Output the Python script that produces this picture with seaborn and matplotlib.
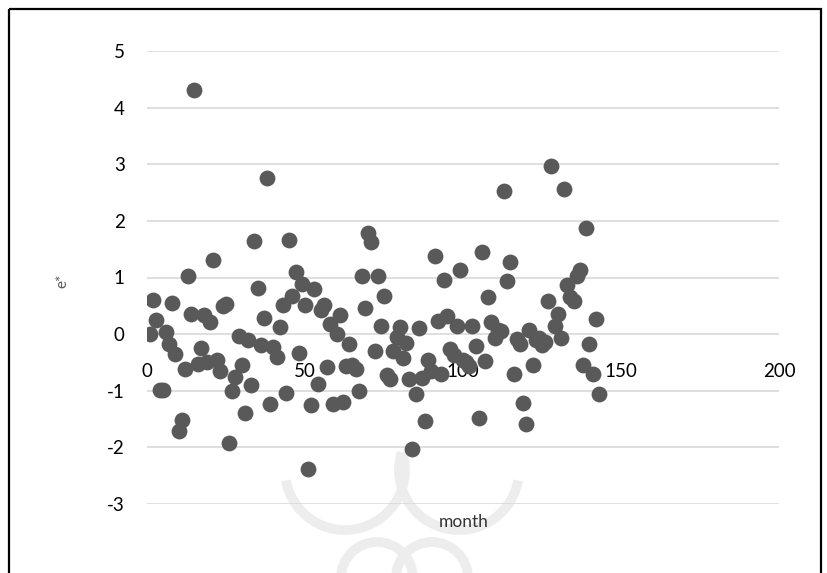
import numpy as np
import pandas as pd
import matplotlib
matplotlib.use("Agg")
import matplotlib.pyplot as plt
from matplotlib.patches import Arc, Circle, Rectangle
import seaborn as sns

# ------------------------------------------------------------
# data: standardized residual e* per month
# ------------------------------------------------------------
months = list(range(1, 144))
e_star = [
    0.00, 0.60, 0.25, -0.98, -0.98, 0.03, -0.17, 0.55, -0.35, -1.71,
    -1.52, -0.62, 1.03, 0.35, 4.32, -0.52, -0.25, 0.33, -0.50, 0.22,
    1.31, -0.45, -0.65, 0.50, 0.53, -1.93, -1.00, -0.75, -0.04, -0.55,
    -1.40, -0.10, -0.89, 1.64, 0.82, -0.19, 0.28, 2.76, -1.24, -0.23,
    -0.41, 0.13, 0.52, -1.04, 1.67, 0.68, 1.10, -0.34, 0.89, 0.51,
    -2.38, -1.26, 0.79, -0.88, 0.42, 0.52, -0.58, 0.17, -1.23, 0.00,
    0.33, -1.20, -0.56, -0.17, -0.55, -0.61, -1.00, 1.02, 0.46, 1.78,
    1.63, -0.29, 1.03, 0.15, 0.68, -0.73, -0.80, -0.30, -0.05, 0.13,
    -0.42, -0.16, -0.80, -2.03, -1.05, 0.10, -0.77, -1.53, -0.45, -0.66,
    1.38, 0.24, -0.70, 0.95, 0.32, -0.26, -0.37, 0.15, 1.14, -0.45,
    -0.50, -0.56, 0.14, -0.21, -1.49, 1.45, -0.48, 0.66, 0.21, -0.07,
    0.08, 0.05, 2.53, 0.94, 1.28, -0.71, -0.09, -0.18, -1.21, -1.59,
    0.07, -0.54, -0.10, -0.06, -0.19, -0.14, 0.59, 2.97, 0.14, 0.35,
    -0.07, 2.56, 0.86, 0.65, 0.59, 1.03, 1.13, -0.55, 1.88, -0.18,
    -0.71, 0.26, -1.06,
]
x_ticks = [0, 50, 100, 150, 200]
y_ticks = [-3, -2, -1, 0, 1, 2, 3, 4, 5]

df = pd.DataFrame({"month": months, "e*": e_star})

sns.set_theme(style="white")
plt.rcParams["font.family"] = ["Lato", "DejaVu Sans"]
plt.rcParams["axes.unicode_minus"] = False

W, H = 828, 573
fig = plt.figure(figsize=(W / 100, H / 100), dpi=100)

# background layer in pixel coordinates: faint watermark + frame
bg = fig.add_axes([0, 0, 1, 1], zorder=0)
bg.set_xlim(0, W)
bg.set_ylim(H, 0)
bg.axis("off")
wm = "#ededed"
bg.add_patch(Arc((345, 470), 120, 120, theta1=-17, theta2=170, color=wm, lw=7))
bg.add_patch(Arc((459, 470), 120, 120, theta1=10, theta2=197, color=wm, lw=7))
bg.add_patch(Circle((377, 578), 36, fill=False, color=wm, lw=7))
bg.add_patch(Circle((432, 578), 36, fill=False, color=wm, lw=7))
bg.add_patch(Rectangle((9, 9), 812, 620, fill=False, edgecolor="black",
                       lw=1.6, clip_on=False))

# main plot
ax = fig.add_axes([147 / W, 1 - 504 / H, 632 / W, 453 / H], zorder=1)
ax.set_facecolor("none")
sns.scatterplot(data=df, x="month", y="e*", ax=ax, s=130,
                color="#595959", edgecolor="#595959", linewidth=0, zorder=3)

ax.set_xlim(0, 200)
ax.set_ylim(-3, 5)
ax.set_xticks(x_ticks)
ax.set_yticks(y_ticks)
ax.grid(axis="y", color="#d9d9d9", lw=1.2)
ax.grid(axis="x", visible=False)
for s in ["top", "right", "left"]:
    ax.spines[s].set_visible(False)
ax.spines["bottom"].set_position(("data", 0))
ax.spines["bottom"].set_visible(False)
ax.tick_params(axis="x", length=0, pad=21, labelsize=13.5, labelcolor="black")
ax.tick_params(axis="y", length=0, pad=16, labelsize=13.5, labelcolor="black")

ax.set_xlabel("")
ax.set_ylabel("")
fig.text(62 / W, 1 - 281 / H, "e*", rotation=90, ha="center", va="center",
         fontsize=11, color="#595959")
fig.text(464 / W, 1 - 522 / H, "month", ha="center", va="center",
         fontsize=12.5, color="#333333")

fig.savefig("out.png", dpi=100)
